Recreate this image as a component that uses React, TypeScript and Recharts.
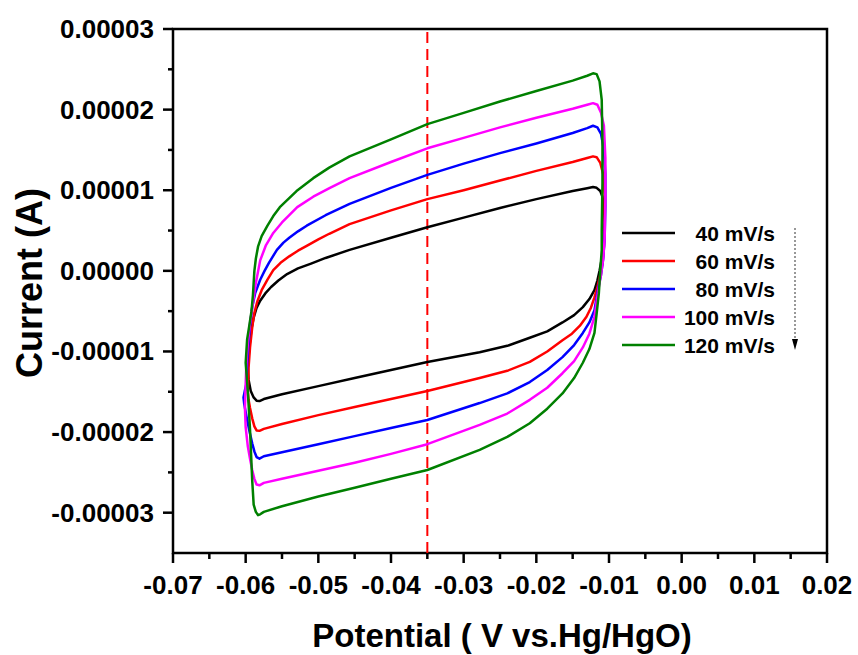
import React from 'react';
import { LineChart, Line, XAxis, YAxis, ReferenceLine, ReferenceArea } from 'recharts';

// potential (V), current (µA) pairs, one closed loop per scan rate
const CV_40: [number, number][] = [
  [-0.0597, -12.0], [-0.0595, -9.5], [-0.0592, -7.2], [-0.0589, -5.8], [-0.0585, -4.6],
  [-0.058, -3.7], [-0.0573, -2.8], [-0.0565, -2.0], [-0.0555, -1.2], [-0.0543, -0.4],
  [-0.0528, 0.3], [-0.051, 0.9], [-0.049, 1.6], [-0.0457, 2.6], [-0.04, 4.1],
  [-0.035, 5.4], [-0.03, 6.6], [-0.025, 7.8], [-0.02, 8.9], [-0.015, 9.9],
  [-0.013, 10.25], [-0.0122, 10.4], [-0.0117, 10.3], [-0.0112, 9.9], [-0.0109, 9.2],
  [-0.0107, 8.0], [-0.0106, 6.0], [-0.0107, 4.0], [-0.0108, 2.5], [-0.011, 1.5],
  [-0.0113, 0.0], [-0.0116, -1.2], [-0.012, -2.4], [-0.0127, -3.5], [-0.0136, -4.5],
  [-0.0148, -5.5], [-0.0164, -6.4], [-0.0185, -7.5], [-0.0209, -8.3], [-0.024, -9.3],
  [-0.0278, -10.1], [-0.035, -11.3], [-0.04, -12.3], [-0.045, -13.3], [-0.05, -14.3],
  [-0.055, -15.3], [-0.0575, -15.9], [-0.0581, -16.15], [-0.0585, -16.1], [-0.0589, -15.7],
  [-0.0593, -14.9], [-0.0596, -13.5], [-0.0597, -12.0],
];

const CV_60: [number, number][] = [
  [-0.0597, -15.0], [-0.0596, -12.0], [-0.0594, -9.5], [-0.0591, -7.0], [-0.0588, -5.2],
  [-0.0584, -3.8], [-0.0578, -2.4], [-0.057, -1.1], [-0.0562, 0.1], [-0.0552, 1.0],
  [-0.054, 1.8], [-0.0528, 2.5], [-0.0516, 3.1], [-0.05, 3.9], [-0.0485, 4.6],
  [-0.0457, 5.8], [-0.04, 7.5], [-0.035, 8.9], [-0.03, 10.0], [-0.025, 11.2],
  [-0.02, 12.4], [-0.015, 13.5], [-0.013, 14.0], [-0.0122, 14.2], [-0.0117, 14.1],
  [-0.0112, 13.4], [-0.0108, 12.0], [-0.0106, 9.5], [-0.0106, 6.0], [-0.0107, 3.0],
  [-0.0109, 1.0], [-0.0112, -0.5], [-0.0116, -2.0], [-0.012, -3.3], [-0.0125, -4.6],
  [-0.0131, -5.7], [-0.014, -6.8], [-0.0151, -7.8], [-0.0164, -8.6], [-0.0185, -10.0],
  [-0.0209, -11.3], [-0.024, -12.4], [-0.0278, -13.3], [-0.035, -14.9], [-0.04, -15.9],
  [-0.045, -16.9], [-0.05, -17.9], [-0.055, -19.0], [-0.0575, -19.6], [-0.0581, -19.85],
  [-0.0585, -19.8], [-0.0588, -19.3], [-0.0591, -18.3], [-0.0594, -17.0], [-0.0596, -16.0],
  [-0.0597, -15.0],
];

const CV_80: [number, number][] = [
  [-0.0599, -14.0], [-0.0598, -11.5], [-0.0596, -9.0], [-0.0594, -6.8], [-0.0591, -4.5],
  [-0.0587, -2.8], [-0.058, -1.1], [-0.0574, 0.0], [-0.0568, 1.0], [-0.0557, 2.6],
  [-0.0548, 3.5], [-0.054, 4.1], [-0.0528, 4.9], [-0.0516, 5.6], [-0.049, 6.9],
  [-0.0457, 8.3], [-0.04, 10.3], [-0.035, 11.9], [-0.03, 13.3], [-0.025, 14.6],
  [-0.02, 15.8], [-0.015, 17.1], [-0.013, 17.7], [-0.0122, 18.0], [-0.0116, 17.8],
  [-0.0111, 17.0], [-0.0107, 15.0], [-0.0105, 12.0], [-0.0105, 8.0], [-0.0106, 4.0],
  [-0.0108, 1.5], [-0.0111, -0.5], [-0.0115, -2.2], [-0.012, -4.9], [-0.0127, -6.4],
  [-0.0136, -7.7], [-0.0148, -9.2], [-0.0164, -10.7], [-0.0185, -12.3], [-0.0209, -13.8],
  [-0.024, -15.2], [-0.0278, -16.4], [-0.035, -18.5], [-0.04, -19.5], [-0.045, -20.5],
  [-0.05, -21.5], [-0.055, -22.5], [-0.0575, -23.0], [-0.0581, -23.3], [-0.0585, -23.1],
  [-0.0588, -22.4], [-0.0591, -21.4], [-0.0595, -19.8], [-0.0599, -18.0], [-0.0602, -16.5],
  [-0.0603, -15.7], [-0.0601, -14.8], [-0.0599, -14.0],
];

const CV_100: [number, number][] = [
  [-0.06, -14.0], [-0.0599, -11.5], [-0.0597, -9.0], [-0.0594, -6.5], [-0.059, -4.0],
  [-0.0586, -1.5], [-0.058, 1.3], [-0.0572, 3.2], [-0.0562, 4.7], [-0.055, 6.0],
  [-0.054, 6.9], [-0.0529, 7.9], [-0.0507, 9.2], [-0.0484, 10.3], [-0.0457, 11.5],
  [-0.04, 13.5], [-0.035, 15.2], [-0.03, 16.5], [-0.025, 17.8], [-0.02, 19.0],
  [-0.015, 20.1], [-0.013, 20.6], [-0.0122, 20.8], [-0.0116, 20.6], [-0.0111, 19.6],
  [-0.0107, 18.0], [-0.0105, 14.0], [-0.0105, 9.0], [-0.0106, 4.0], [-0.0108, 1.5],
  [-0.0111, -0.5], [-0.0114, -2.0], [-0.0117, -3.8], [-0.012, -5.7], [-0.0127, -7.8],
  [-0.0136, -9.5], [-0.0148, -11.2], [-0.0164, -12.7], [-0.0185, -14.5], [-0.0209, -16.0],
  [-0.024, -17.7], [-0.0278, -19.1], [-0.035, -21.5], [-0.04, -22.7], [-0.045, -23.8],
  [-0.05, -24.8], [-0.055, -25.8], [-0.0575, -26.3], [-0.0581, -26.6], [-0.0585, -26.5],
  [-0.0588, -25.8], [-0.0591, -24.7], [-0.0594, -23.3], [-0.0597, -21.8], [-0.06, -19.4],
  [-0.0601, -17.0], [-0.06, -14.0],
];

const CV_120: [number, number][] = [
  [-0.06, -11.4], [-0.0598, -8.5], [-0.0595, -6.8], [-0.0592, -5.0], [-0.059, -3.0],
  [-0.0589, -1.5], [-0.0588, 0.0], [-0.0586, 1.5], [-0.0583, 3.0], [-0.0578, 4.3],
  [-0.057, 5.6], [-0.0562, 6.8], [-0.0553, 7.9], [-0.053, 9.9], [-0.0507, 11.5],
  [-0.0485, 12.8], [-0.0457, 14.2], [-0.04, 16.3], [-0.035, 18.2], [-0.03, 19.6],
  [-0.025, 21.0], [-0.02, 22.3], [-0.015, 23.6], [-0.013, 24.2], [-0.0122, 24.5],
  [-0.0117, 24.4], [-0.0113, 23.5], [-0.011, 21.2], [-0.0109, 16.0], [-0.0109, 10.9],
  [-0.011, 5.0], [-0.011, 2.6], [-0.0112, 0.0], [-0.0114, -2.8], [-0.0117, -5.3],
  [-0.012, -7.7], [-0.0127, -9.7], [-0.0136, -11.4], [-0.0148, -13.3], [-0.0164, -15.2],
  [-0.0185, -17.1], [-0.0209, -18.9], [-0.024, -20.6], [-0.0278, -22.2], [-0.035, -24.7],
  [-0.04, -25.8], [-0.045, -26.9], [-0.05, -28.0], [-0.055, -29.2], [-0.0575, -29.9],
  [-0.058, -30.2], [-0.0583, -30.3], [-0.0586, -29.9], [-0.0589, -29.0], [-0.0591, -26.0],
  [-0.0594, -19.7], [-0.0597, -15.0], [-0.06, -11.4],
];

const SCAN_RATES = ['40 mV/s', '60 mV/s', '80 mV/s', '100 mV/s', '120 mV/s'];
const LOOPS = [CV_40, CV_60, CV_80, CV_100, CV_120];
const COLORS = ['#000000', '#ff0000', '#0000ff', '#ff00ff', '#008000'];

const X_MAJOR = [-0.07, -0.06, -0.05, -0.04, -0.03, -0.02, -0.01, 0.0, 0.01, 0.02];
const X_MINOR = [-0.065, -0.055, -0.045, -0.035, -0.025, -0.015, -0.005, 0.005, 0.015];
const Y_MAJOR = [-30, -20, -10, 0, 10, 20, 30];
const Y_MINOR = [-25, -15, -5, 5, 15, 25];
const MARKER_V = -0.035;

const FONT = '"Liberation Sans", Arial, Helvetica, sans-serif';

const isMajorX = (v: number) => X_MAJOR.some((m) => Math.abs(m - v) < 1e-9);

function XTick({ x, y, payload }: any) {
  const major = isMajorX(payload.value);
  return (
    <g>
      <line x1={x} x2={x} y1={y} y2={y + (major ? 10 : 6)} stroke="#000" strokeWidth={2.5} />
      {major && (
        <text x={x} y={y + 41} textAnchor="middle" fontFamily={FONT} fontWeight="bold" fontSize={26} fill="#000">
          {payload.value.toFixed(2)}
        </text>
      )}
    </g>
  );
}

function YTick({ x, y, payload }: any) {
  const major = payload.value % 10 === 0;
  return (
    <g>
      <line x1={x - (major ? 10 : 5)} x2={x} y1={y} y2={y} stroke="#000" strokeWidth={2.5} />
      {major && (
        <text x={x - 19} y={y + 9} textAnchor="end" fontFamily={FONT} fontWeight="bold" fontSize={26} fill="#000">
          {(payload.value * 1e-6).toFixed(5)}
        </text>
      )}
    </g>
  );
}

// legend box with the scan-rate arrow, placed inside the plot on the right
function RateLegend() {
  return (
    <g transform="translate(615 219)">
      {SCAN_RATES.map((rate, i) => {
        const cy = 14 + i * 28;
        return (
          <g key={rate}>
            <line x1={7} x2={60} y1={cy} y2={cy} stroke={COLORS[i]} strokeWidth={2.5} />
            <text x={160} y={cy + 7.5} textAnchor="end" fontFamily={FONT} fontWeight="bold" fontSize={21} fill="#000">
              {rate}
            </text>
          </g>
        );
      })}
      <line x1={180} x2={180} y1={9} y2={122} stroke="#777" strokeWidth={1.5} strokeDasharray="2 2" />
      <polygon points="177,120 183,120 180,131" fill="#000" />
    </g>
  );
}

export default function App() {
  return (
    <div style={{ position: 'absolute', left: 0, top: 0, width: 858, height: 655, background: '#fff' }}>
      <LineChart width={858} height={655} margin={{ top: 29, right: 31, bottom: 0, left: 0 }}>
        <XAxis
          dataKey="v"
          type="number"
          domain={[-0.07, 0.02]}
          ticks={[...X_MAJOR, ...X_MINOR].sort((a, b) => a - b)}
          interval={0}
          height={102}
          tickSize={0}
          tickMargin={0}
          tickLine={false}
          axisLine={false}
          tick={<XTick />}
          allowDataOverflow
        />
        <YAxis
          type="number"
          domain={[-35, 30]}
          ticks={[...Y_MAJOR, ...Y_MINOR].sort((a, b) => a - b)}
          interval={0}
          width={173}
          tickSize={0}
          tickMargin={0}
          tickLine={false}
          axisLine={false}
          tick={<YTick />}
          allowDataOverflow
        />
        <ReferenceLine x={MARKER_V} stroke="#ff0000" strokeWidth={2} strokeDasharray="11 6" ifOverflow="visible" />
        {LOOPS.map((loop, i) => (
          <Line
            key={SCAN_RATES[i]}
            name={SCAN_RATES[i]}
            data={loop.map(([v, c]) => ({ v, c }))}
            dataKey="c"
            type="linear"
            stroke={COLORS[i]}
            strokeWidth={2.5}
            strokeLinejoin="round"
            dot={false}
            activeDot={false}
            isAnimationActive={false}
          />
        ))}
        <ReferenceArea
          x1={-0.07}
          x2={0.02}
          y1={-35}
          y2={30}
          fill="none"
          fillOpacity={0}
          stroke="#000"
          strokeWidth={2.5}
          ifOverflow="visible"
        />
      </LineChart>
      <svg width={858} height={655} style={{ position: 'absolute', left: 0, top: 0, pointerEvents: 'none' }}>
        <RateLegend />
        <text x={502} y={647} textAnchor="middle" fontFamily={FONT} fontWeight="bold" fontSize={33} fill="#000">
          Potential ( V vs.Hg/HgO)
        </text>
        <text
          x={42}
          y={283}
          transform="rotate(-90 42 283)"
          textAnchor="middle"
          fontFamily={FONT}
          fontWeight="bold"
          fontSize={36}
          fill="#000"
        >
          Current (A)
        </text>
      </svg>
    </div>
  );
}
